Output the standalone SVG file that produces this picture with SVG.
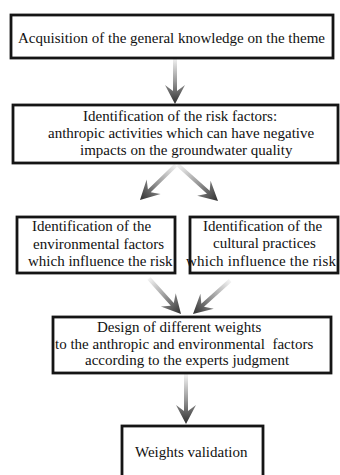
<svg xmlns="http://www.w3.org/2000/svg" width="340" height="475" viewBox="0 0 340 475">
<defs>
<style>
.box{fill:#fff;stroke:#151515;stroke-width:2.8}
.t{font-family:"Liberation Serif","Times New Roman",serif;font-size:15px;fill:#111}
.arr{fill:url(#g)}
</style>
<linearGradient id="g" x1="0" y1="0" x2="0" y2="1">
<stop offset="0" stop-color="#f4f4f4"/>
<stop offset="0.5" stop-color="#9a9a9a"/>
<stop offset="1" stop-color="#2e2e2e"/>
</linearGradient>
</defs>
<rect width="340" height="475" fill="#fff"/>
<g id="connectors">
<g transform="translate(175,104)"><polygon class="arr" points="-2,-46 2,-46 2,-13 10,-19 0,0 -10,-19 -2,-13"/></g>
<g transform="translate(140,200) rotate(45.8)"><polygon class="arr" points="-2,-50 2,-50 2,-13 10,-19 0,0 -10,-19 -2,-13"/></g>
<g transform="translate(218,201) rotate(-48)"><polygon class="arr" points="-2,-54 2,-54 2,-13 10,-19 0,0 -10,-19 -2,-13"/></g>
<g transform="translate(181,314) rotate(-42)"><polygon class="arr" points="-2,-48 2,-48 2,-13 10,-19 0,0 -10,-19 -2,-13"/></g>
<g transform="translate(193,314) rotate(48)"><polygon class="arr" points="-2,-50 2,-50 2,-13 10,-19 0,0 -10,-19 -2,-13"/></g>
<g transform="translate(186,424)"><polygon class="arr" points="-2,-50 2,-50 2,-13 10,-19 0,0 -10,-19 -2,-13"/></g>
</g>
<g id="n1">
<rect class="box" x="11" y="15" width="322" height="43"/>
<text class="t" x="18" y="43">Acquisition of the general knowledge on the theme</text>
</g>
<g id="n2">
<rect class="box" x="13" y="105" width="325" height="58"/>
<text class="t" x="83" y="121">Identification of the risk factors:</text>
<text class="t" x="48" y="138">anthropic activities which can have negative</text>
<text class="t" x="80" y="155">impacts on the groundwater quality</text>
</g>
<g id="n3">
<rect class="box" x="17" y="217" width="158" height="56"/>
<text class="t" x="32" y="231">Identification of the</text>
<text class="t" x="33" y="249">environmental factors</text>
<text class="t" x="28" y="266">which influence the risk</text>
</g>
<g id="n4">
<rect class="box" x="190" y="217" width="148" height="56"/>
<text class="t" x="203" y="231">Identification of the</text>
<text class="t" x="213" y="248">cultural practices</text>
<text class="t" x="186" y="266" textLength="150">which influence the risk</text>
</g>
<g id="n5">
<rect class="box" x="53" y="317" width="278" height="56"/>
<text class="t" x="97" y="332">Design of different weights</text>
<text class="t" x="55" y="349" xml:space="preserve">to the anthropic and environmental  factors</text>
<text class="t" x="85" y="365">according to the experts judgment</text>
</g>
<g id="n6">
<rect class="box" x="122" y="426" width="141" height="60"/>
<text class="t" x="135" y="457">Weights validation</text>
</g>
</svg>
